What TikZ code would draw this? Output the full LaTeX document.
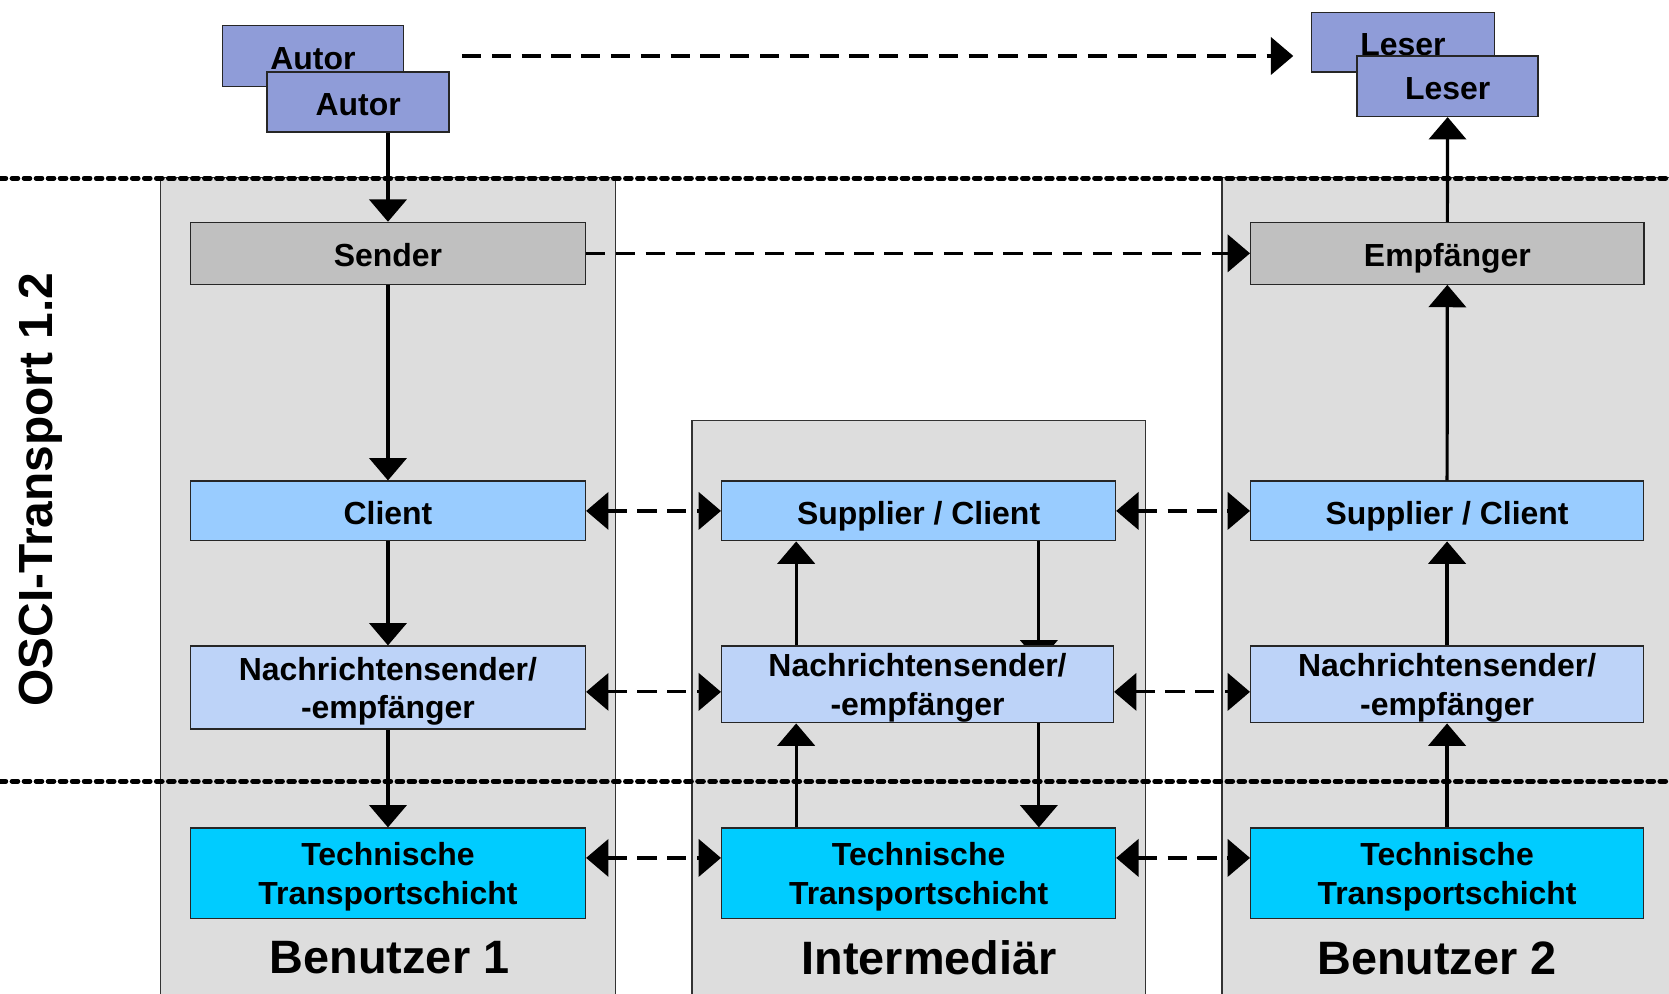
\documentclass[tikz,border=0pt]{standalone}
\usepackage{fontspec}
\setmainfont{Liberation Sans}
\usetikzlibrary{arrows.meta}
\pgfdeclarelayer{panel}
\pgfdeclarelayer{under}
\pgfsetlayers{panel,under,main}

\definecolor{rolefill}{HTML}{8F9CD8}
\definecolor{endfill}{HTML}{C0C0C0}
\definecolor{panelfill}{HTML}{DDDDDD}
\definecolor{clientfill}{HTML}{99CCFF}
\definecolor{msgfill}{HTML}{BDD3F8}
\definecolor{techfill}{HTML}{00CCFF}

\tikzset{
  box/.style={draw=black!85, line width=1.3pt, inner sep=0pt, align=center,
    font=\fontsize{30}{36}\selectfont\bfseries,
    execute at begin node={\rule[-7pt]{0pt}{39pt}}},
  twolines/.style={text depth=-2pt},
  role/.style={box, fill=rolefill},
  endpt/.style={box, fill=endfill},
  client/.style={box, fill=clientfill},
  msg/.style={box, twolines, fill=msgfill},
  tech/.style={box, twolines, fill=techfill},
  panelbox/.style={draw=black!80, line width=1.2pt, fill=panelfill},
  layerline/.style={line width=4.5pt, line cap=round, dash pattern=on 5.5pt off 5.8pt},
  flow/.style={line width=3pt, -{Triangle[length=21pt,width=35pt]}},
  link/.style={line width=3pt, dash pattern=on 18pt off 10pt,
    {Triangle[length=21pt,width=35pt]}-{Triangle[length=21pt,width=35pt]}},
  msgflow/.style={line width=3pt, dash pattern=on 18pt off 10pt,
    -{Triangle[length=21pt,width=35pt]}},
  title/.style={font=\fontsize{44}{50}\selectfont\bfseries}
}

\begin{document}
\begin{tikzpicture}[x=1pt, y=-1pt]
\clip (0,0) rectangle (1568,933);
\useasboundingbox (0,0) rectangle (1568,933);

% user and intermediary panels with the two layer borders
\begin{pgfonlayer}{panel}
  \fill[white] (0,0) rectangle (1568,933);
  \draw[panelbox] (151,167) rectangle (578,950);
  \draw[panelbox] (650,395) rectangle (1076,950);
  \draw[panelbox] (1148,167) rectangle (1590,950);
  \draw[layerline] (0,167.5) -- (1568,167.5);
  \draw[layerline] (0,734) -- (1568,734);
\end{pgfonlayer}

% authors and readers
\node[role, minimum width=170pt, minimum height=57pt] (autorB) at (294,52.5) {Autor};
\node[role, minimum width=171pt, minimum height=56.5pt] (autorA) at (336.5,95.75) {Autor};
\node[role, minimum width=172pt, minimum height=56pt] (leserB) at (1318,39.6) {Leser};
\node[role, minimum width=170pt, minimum height=56.7pt] (leserA) at (1360,81) {Leser};

% sender and receiver
\node[endpt, minimum width=371pt, minimum height=58pt] (sender) at (364.5,238) {Sender};
\node[endpt, minimum width=369.5pt, minimum height=58pt] (empf) at (1359.75,238) {Empfänger};

% client layer
\node[client, minimum width=371pt, minimum height=56pt] (clientL) at (364.5,480) {Client};
\node[client, minimum width=370pt, minimum height=56pt] (clientM) at (863,480) {Supplier / Client};
\node[client, minimum width=369pt, minimum height=56pt] (clientR) at (1359.5,480) {Supplier / Client};

% message layer
\node[msg, minimum width=371pt, minimum height=78pt] (msgL) at (364.5,646) {Nachrichtensender/\\-empfänger};
\node[msg, minimum width=368pt, minimum height=72pt] (msgM) at (862,643) {Nachrichtensender/\\-empfänger};
\node[msg, minimum width=369pt, minimum height=72pt] (msgR) at (1359.5,643) {Nachrichtensender/\\-empfänger};

% technical transport layer
\node[tech, minimum width=371pt, minimum height=85pt] (techL) at (364.5,820.5) {Technische\\Transportschicht};
\node[tech, minimum width=370pt, minimum height=85pt] (techM) at (863,820.5) {Technische\\Transportschicht};
\node[tech, minimum width=369pt, minimum height=85pt] (techR) at (1359.5,820.5) {Technische\\Transportschicht};

% captions
\node[title] (cap1) at (366,900) {Benutzer 1};
\node[title] (cap2) at (873,900) {Intermediär};
\node[title] (cap3) at (1350,900) {Benutzer 2};
\node[font=\fontsize{45}{50}\selectfont\bfseries, rotate=90] (osci) at (38.5,460) {OSCI-Transport 1.2};

% end-to-end relations
\coordinate (tstart) at (434,52.6);
\coordinate (tend) at (1215,52.6);
\draw[msgflow] (tstart) -- (tend);
\draw[msgflow] (sender.east) -- (empf.west);

% sending user
\draw[flow] (autorA.south -| sender.north) -- (sender.north);
\draw[flow] (sender.south) -- (clientL.north);
\draw[flow] (clientL.south) -- (msgL.north);
\draw[flow] (msgL.south) -- (techL.north);

% intermediary
\coordinate (mUpX) at (748,0);
\coordinate (mDnX) at (976,0);
\draw[flow] (techM.north -| mUpX) -- (msgM.south -| mUpX);
\draw[flow] (msgM.north -| mUpX) -- (clientM.south -| mUpX);
\coordinate (hidden) at ([yshift=-16pt]msgM.north -| mDnX);
\begin{pgfonlayer}{under}
  \draw[flow] (clientM.south -| mDnX) -- (hidden);
\end{pgfonlayer}
\draw[flow] (msgM.south -| mDnX) -- (techM.north -| mDnX);

% receiving user
\draw[flow] (techR.north) -- (msgR.south);
\draw[flow] (msgR.north) -- (clientR.south);
\draw[flow] (clientR.north) -- (empf.south);
\draw[flow] (empf.north) -- (leserA.south);

% peer links between the layers
\coordinate (rowC) at (0,480);
\coordinate (rowM) at (0,650);
\coordinate (rowT) at (0,806);
\draw[link] (clientL.east |- rowC) -- (clientM.west |- rowC);
\draw[link] (clientM.east |- rowC) -- (clientR.west |- rowC);
\draw[link] (msgL.east |- rowM) -- (msgM.west |- rowM);
\draw[link] (msgM.east |- rowM) -- (msgR.west |- rowM);
\draw[link] (techL.east |- rowT) -- (techM.west |- rowT);
\draw[link] (techM.east |- rowT) -- (techR.west |- rowT);
\end{tikzpicture}
\end{document}
